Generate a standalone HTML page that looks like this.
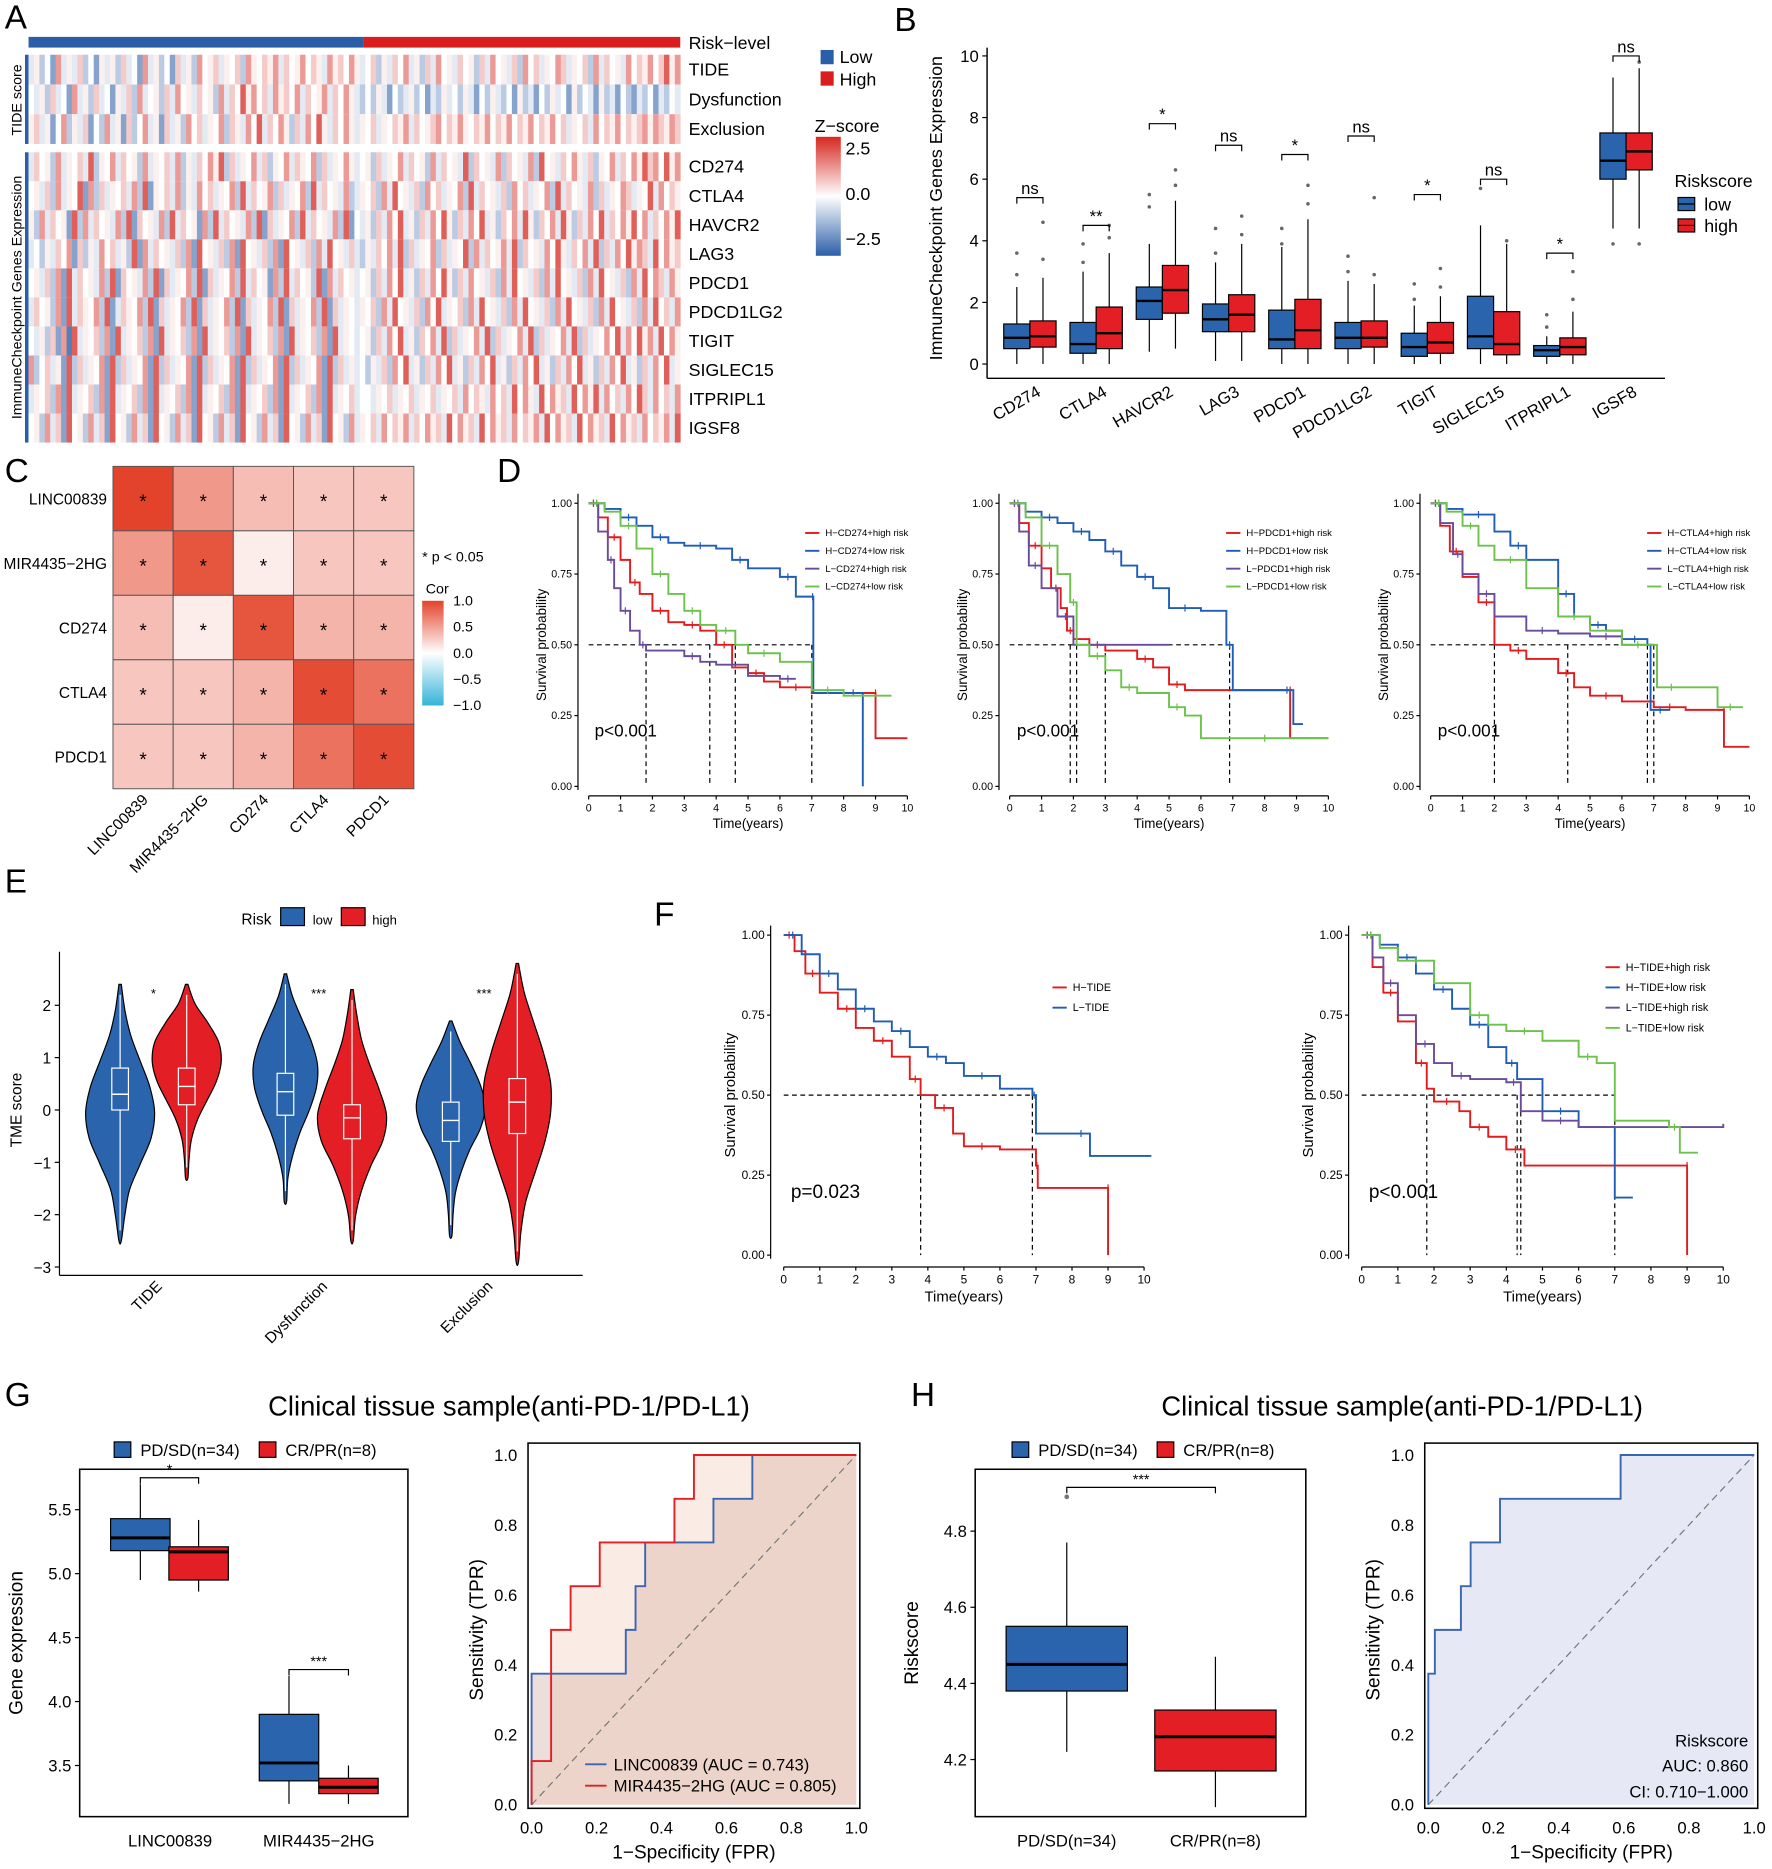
<!DOCTYPE html>
<html><head><meta charset="utf-8">
<style>
html,body{margin:0;padding:0;background:#fff;}
svg{display:block;font-family:"Liberation Sans",Arial,sans-serif;}
</style></head>
<body>
<svg id="fig" width="1772" height="1869" viewBox="0 0 1490 1571" preserveAspectRatio="none" xmlns="http://www.w3.org/2000/svg">
<defs>
<linearGradient id="zgrad" x1="0" y1="0" x2="0" y2="1"><stop offset="0" stop-color="#d7271f"/><stop offset="0.5" stop-color="#ffffff"/><stop offset="1" stop-color="#2b5fa8"/></linearGradient>
<linearGradient id="cgrad" x1="0" y1="0" x2="0" y2="1"><stop offset="0" stop-color="#e3432a"/><stop offset="0.5" stop-color="#ffffff"/><stop offset="1" stop-color="#34b4d9"/></linearGradient>
</defs>
<g font-size="28" fill="#000">
<text x="4" y="24">A</text>
<text x="752" y="26">B</text>
<text x="4" y="405">C</text>
<text x="418" y="405">D</text>
<text x="4" y="750">E</text>
<text x="550" y="778">F</text>
<text x="4" y="1182">G</text>
<text x="766" y="1182">H</text>
</g>
<g font-size="15">
<text x="579" y="41">Risk−level</text>
<text x="706" y="53">Low</text>
<text x="706" y="72">High</text>
<text x="685" y="111">Z−score</text>
<text x="711" y="130">2.5</text>
<text x="711" y="168">0.0</text>
<text x="711" y="206">−2.5</text>
</g>
<rect x="690" y="42" width="11" height="12" fill="#2a5fa8"/>
<rect x="690" y="60" width="11" height="12" fill="#d91e1e"/>
<rect x="686" y="115" width="21" height="100" fill="url(#zgrad)"/>
<rect x="21" y="46" width="3" height="75" fill="#2a5fa8"/>
<rect x="21" y="128" width="3" height="244" fill="#2a5fa8"/>
<text transform="translate(18,84) rotate(-90)" text-anchor="middle" font-size="12">TIDE score</text>
<text transform="translate(18,250) rotate(-90)" text-anchor="middle" font-size="12">ImmuneCheckpoint Genes Expression</text>
<rect x="24" y="31" width="282" height="9" fill="#2a5fa8"/>
<rect x="306" y="31" width="266" height="9" fill="#d91e1e"/>
<g id="heatA"></g>

<text transform="translate(792,175) rotate(-90)" text-anchor="middle" font-size="15">ImmuneCheckpoint Genes Expression</text>
<g font-size="15">
<text x="1408" y="157">Riskscore</text>
<text x="1433" y="177">low</text>
<text x="1433" y="195">high</text>
</g>
<g id="panelB"></g>

<g id="panelC"></g>
<text x="355" y="472" font-size="12">* p &lt; 0.05</text>
<text x="358" y="499" font-size="12">Cor</text>
<rect x="355" y="505" width="18" height="88" fill="url(#cgrad)"/>
<g font-size="12">
<text x="381" y="509">1.0</text>
<text x="381" y="531">0.5</text>
<text x="381" y="553">0.0</text>
<text x="381" y="575">−0.5</text>
<text x="381" y="597">−1.0</text>
</g>

<g id="panelD"></g>
<g id="panelE"></g>
<g id="panelF"></g>

<text x="428" y="1190" text-anchor="middle" font-size="23">Clinical tissue sample(anti-PD-1/PD-L1)</text>
<text x="1179" y="1190" text-anchor="middle" font-size="23">Clinical tissue sample(anti-PD-1/PD-L1)</text>
<g font-size="14">
<rect x="96" y="1212" width="14" height="13" fill="#2a64ad" stroke="#000"/>
<text x="118" y="1224">PD/SD(n=34)</text>
<rect x="218" y="1212" width="14" height="13" fill="#e31e24" stroke="#000"/>
<text x="240" y="1224">CR/PR(n=8)</text>
<rect x="851" y="1212" width="14" height="13" fill="#2a64ad" stroke="#000"/>
<text x="873" y="1224">PD/SD(n=34)</text>
<rect x="973" y="1212" width="14" height="13" fill="#e31e24" stroke="#000"/>
<text x="995" y="1224">CR/PR(n=8)</text>
</g>
<g id="panelG"></g>
<g id="panelH"></g>
</svg>
<script>
// ---------- DATA ----------
const heatLabels = ["TIDE","Dysfunction","Exclusion","CD274","CTLA4","HAVCR2","LAG3","PDCD1","PDCD1LG2","TIGIT","SIGLEC15","ITPRIPL1","IGSF8"];
const heatValues = [
"463528464735264637452846352746385674657386576847568576486758645736475846374856475637485647385746587465738475648576857968",
"546374528463745264738456374856475638475968574867584756847586435364253463524364536425364352634253645263542634253243524354",
"674625836472538462735846274638574658376485947586374859647586465746576847567857686576857685768576857465748576857678687687",
"475638465749365847563846574836475869374658473658476583746586456374658475638475649375648375648395647586473658475869785968",
"564738465928374657483926574836485746583947568374658394756483465738495647385746583947564738574658394756483746587465948576",
"638475629384756483927564839475628394756483927465839475648392546374859463748596374859463758496375849637485947586958475869",
"453647582736485746392847564738295647382956473829564738495647436475849374658374659384756849375648596475849374859687495867",
"564738294756483927564839274658392746583947562839475639284756456374859463748596374856473849564738495647384956473849587486",
"475638294765839247658392746583927465839274658392746583927465465738495647385946573849564738495647384956473849564738495748",
"546372819465738294657382946573829465738294657382946573829465456374859463758493746584937465849374658493746585948596849586",
"835746293746582937465829374658293746582937465829374658293746453647385946374859463748594637485946374859463748594637485946",
"465738294657382946573829465738294657382946573829465738294657455465746574657465748576485749586495867495869485748597485748",
"563847295638472956384729563847295638472956384729563847295638465748576847586749586749586748576849586749586749586748576849"];

const bGenes = ["CD274","CTLA4","HAVCR2","LAG3","PDCD1","PDCD1LG2","TIGIT","SIGLEC15","ITPRIPL1","IGSF8"];
const bLow = [[0,0.5,0.85,1.3,2.5],[0,0.35,0.65,1.35,3.0],[0.4,1.45,2.05,2.5,3.9],[0.1,1.05,1.45,1.95,3.3],[0,0.5,0.8,1.75,3.8],[0,0.5,0.85,1.35,2.7],[0,0.25,0.55,1.0,1.9],[0,0.5,0.9,2.2,4.5],[0,0.25,0.45,0.6,0.9],[4.4,6.0,6.6,7.5,9.3]];
const bHigh = [[0,0.55,0.9,1.4,2.8],[0,0.5,1.0,1.85,3.6],[0.5,1.65,2.4,3.2,5.3],[0.1,1.05,1.6,2.25,3.9],[0,0.5,1.1,2.1,4.7],[0,0.55,0.85,1.4,2.6],[0,0.35,0.7,1.35,2.2],[0,0.3,0.65,1.7,3.9],[0,0.3,0.55,0.85,1.7],[4.4,6.3,6.9,7.5,9.6]];
const bOutLow = [[2.9,3.6],[3.3,3.9],[5.1,5.5],[3.6,4.4],[3.9,4.4],[3.0,3.5],[2.1,2.6],[5.7],[1.2,1.6],[3.9]];
const bOutHigh = [[3.4,4.6],[4.1,4.5],[5.8,6.3],[4.2,4.8],[5.2,5.8],[2.9,5.4],[2.5,3.1],[4.0],[2.1,3.0],[3.9,9.8]];
const bSig = ["ns","**","*","ns","*","ns","*","ns","*","ns"];
const bSigLevel = [5.4,4.5,7.8,7.1,6.8,7.4,5.5,6.0,3.6,10.0];
const bTicks = [0,2,4,6,8,10];

const cLabels = ["LINC00839","MIR4435−2HG","CD274","CTLA4","PDCD1"];
const cCor = [[1.0,0.55,0.35,0.3,0.3],[0.55,0.9,0.1,0.3,0.3],[0.35,0.1,0.9,0.4,0.4],[0.3,0.3,0.4,0.95,0.75],[0.3,0.3,0.4,0.75,0.95]];

const kmColors = {red:"#e41a1c",blue:"#1f5db8",purple:"#6a4c9c",green:"#6cc24a"};
const d1Red = [[0,1],[0.3,0.95],[0.6,0.88],[1,0.8],[1.3,0.72],[1.6,0.68],[2,0.62],[2.5,0.58],[3,0.57],[3.5,0.55],[4,0.5],[4.5,0.42],[5,0.4],[5.5,0.37],[6,0.35],[7,0.33],[9,0.33],[9,0.17],[10,0.17]];
const d1Blue = [[0,1],[0.5,0.98],[1,0.95],[1.5,0.92],[2,0.88],[2.5,0.86],[3,0.85],[4,0.84],[4.5,0.8],[5,0.77],[6,0.74],[6.5,0.67],[7,0.67],[7.05,0.33],[8,0.33],[8.6,0.0]];
const d1Purple = [[0,1],[0.3,0.9],[0.6,0.8],[0.8,0.7],[1,0.62],[1.3,0.55],[1.6,0.5],[1.8,0.48],[3,0.46],[3.5,0.44],[4,0.43],[5,0.39],[6,0.38],[6.5,0.38]];
const d1Green = [[0,1],[0.5,0.97],[1,0.92],[1.5,0.84],[2,0.75],[2.5,0.68],[3,0.62],[3.5,0.57],[4,0.55],[4.6,0.5],[5,0.47],[6,0.44],[7,0.34],[8,0.32],[9.5,0.32]];
const d1Med = [1.8,3.8,4.6,7.0];
const d2Red = [[0,1],[0.3,0.93],[0.6,0.85],[1,0.77],[1.3,0.7],[1.6,0.63],[1.8,0.55],[2,0.52],[2.5,0.5],[3,0.48],[4,0.45],[4.5,0.42],[5,0.36],[5.5,0.34],[8.8,0.34],[8.8,0.17],[10,0.17]];
const d2Blue = [[0,1],[0.5,0.97],[1,0.95],[1.5,0.93],[2,0.9],[2.5,0.87],[3,0.83],[3.5,0.78],[4,0.74],[4.5,0.7],[5,0.63],[6,0.62],[6.8,0.5],[7,0.34],[8.5,0.34],[8.9,0.22],[9.2,0.22]];
const d2Purple = [[0,1],[0.3,0.9],[0.6,0.78],[1,0.7],[1.5,0.6],[2,0.5],[5,0.5]];
const d2Green = [[0,1],[0.5,0.95],[1,0.85],[1.5,0.75],[1.9,0.65],[2.1,0.5],[2.5,0.46],[3,0.41],[3.5,0.35],[4,0.33],[5,0.28],[5.5,0.25],[6,0.17],[10,0.17]];
const d2Med = [1.9,2.1,3.0,6.9];
const d3Red = [[0,1],[0.3,0.92],[0.6,0.83],[1,0.74],[1.5,0.65],[2,0.5],[2.5,0.48],[3,0.45],[4,0.4],[4.5,0.35],[5,0.32],[6,0.3],[7,0.28],[8,0.27],[9.2,0.27],[9.2,0.14],[10,0.14]];
const d3Blue = [[0,1],[0.5,0.98],[1,0.96],[2,0.9],[2.5,0.85],[3,0.8],[4,0.68],[4.5,0.6],[5,0.57],[5.5,0.55],[6,0.52],[6.8,0.5],[6.9,0.27],[7.5,0.27]];
const d3Purple = [[0,1],[0.3,0.93],[0.7,0.82],[1,0.75],[1.5,0.68],[2,0.6],[3,0.55],[4,0.54],[5,0.53],[6,0.5],[7,0.5]];
const d3Green = [[0,1],[0.5,0.97],[1,0.92],[1.5,0.85],[2,0.8],[3,0.7],[4,0.6],[5,0.55],[6,0.5],[7,0.5],[7.1,0.35],[8,0.35],[9,0.28],[9.8,0.28]];
const d3Med = [2.0,4.3,6.8,7.0];
const f1Red = [[0,1],[0.3,0.95],[0.6,0.88],[1,0.82],[1.5,0.77],[2,0.71],[2.5,0.67],[3,0.62],[3.5,0.55],[3.8,0.5],[4.2,0.46],[4.7,0.38],[5,0.34],[6,0.33],[7,0.28],[7.05,0.21],[9,0.21],[9,0]];
const f1Blue = [[0,1],[0.5,0.94],[1,0.88],[1.5,0.83],[2,0.77],[2.5,0.73],[3,0.7],[3.5,0.65],[4,0.62],[4.5,0.6],[5,0.56],[6,0.52],[6.9,0.5],[7,0.38],[8,0.38],[8.5,0.31],[10.2,0.31]];
const f1Med = [3.8,6.9];
const f2Red = [[0,1],[0.3,0.9],[0.6,0.82],[1,0.73],[1.5,0.6],[1.8,0.52],[2,0.48],[2.7,0.45],[3,0.4],[3.5,0.37],[4,0.33],[4.5,0.28],[9,0.28],[9,0]];
const f2Blue = [[0,1],[0.5,0.97],[1,0.93],[1.5,0.88],[2,0.83],[2.5,0.77],[3,0.72],[3.5,0.65],[4,0.6],[4.3,0.55],[5,0.45],[6,0.4],[7,0.35],[7,0.18],[7.5,0.18]];
const f2Purple = [[0,1],[0.3,0.93],[0.6,0.85],[1,0.75],[1.5,0.66],[2,0.6],[2.5,0.56],[3,0.55],[4,0.54],[4.4,0.45],[5,0.42],[6,0.4],[10,0.41]];
const f2Green = [[0,1],[0.5,0.96],[1,0.92],[2,0.85],[3,0.75],[3.5,0.72],[4,0.7],[5,0.67],[6,0.62],[6.5,0.6],[7,0.5],[7,0.42],[8.5,0.4],[8.8,0.32],[9.3,0.32]];
const f2Med = [1.8,4.3,4.4,7.0];

const eGroups = ["TIDE","Dysfunction","Exclusion"];
const eSig = ["*","***","***"];
const eLowRange = [[-2.5,2.4],[-1.75,2.6],[-2.4,1.7]];
const eHighRange = [[-1.3,2.4],[-2.5,2.3],[-2.9,2.8]];
const eLowProfile = [[1,4,9,17,25,29,26,17,8,4,1],[1,6,14,22,27,26,20,12,6,2,1],[1,8,17,25,29,25,16,9,4,2,1]];
const eHighProfile = [[1,7,18,27,29,25,17,9,4,2,1],[1,4,8,15,23,29,26,16,8,3,1],[1,6,14,22,28,28,23,15,7,3,1]];
const eLowBox = [[0.0,0.3,0.8],[-0.1,0.35,0.7],[-0.6,-0.2,0.15]];
const eHighBox = [[0.1,0.45,0.8],[-0.55,-0.15,0.1],[-0.45,0.15,0.6]];
const eTicks = [2,1,0,-1,-2,-3];

const gCats = ["LINC00839","MIR4435−2HG"];
const gLow = [[4.95,5.18,5.28,5.43,5.7],[3.2,3.38,3.52,3.9,4.2]];
const gHigh = [[4.86,4.95,5.17,5.21,5.42],[3.2,3.28,3.33,3.4,3.5]];
const gTicks = [3.5,4.0,4.5,5.0,5.5];
const rocLinc = [[0,0],[0,0.375],[0.29,0.375],[0.29,0.5],[0.32,0.5],[0.32,0.625],[0.35,0.625],[0.35,0.75],[0.56,0.75],[0.56,0.875],[0.68,0.875],[0.68,1],[1,1]];
const rocMir = [[0,0],[0,0.125],[0.06,0.125],[0.06,0.5],[0.12,0.5],[0.12,0.625],[0.21,0.625],[0.21,0.75],[0.44,0.75],[0.44,0.875],[0.5,0.875],[0.5,1],[1,1]];
const hCats = ["PD/SD(n=34)","CR/PR(n=8)"];
const hBoxes = [[4.22,4.38,4.45,4.55,4.77],[4.075,4.17,4.26,4.33,4.47]];
const hOutliers = [4.89];
const hTicks = [4.2,4.4,4.6,4.8];
const rocRisk = [[0,0],[0,0.375],[0.02,0.375],[0.02,0.5],[0.1,0.5],[0.1,0.625],[0.13,0.625],[0.13,0.75],[0.22,0.75],[0.22,0.875],[0.59,0.875],[0.59,1],[1,1]];
const rocTicks = [0,0.2,0.4,0.6,0.8,1.0];

// ---------- HELPERS ----------
const NS='http://www.w3.org/2000/svg';
function mk(tag,attrs,parent){const e=document.createElementNS(NS,tag);for(const k in attrs)e.setAttribute(k,attrs[k]);parent.appendChild(e);return e;}
function tx(parent,x,y,s,attrs){const t=mk('text',Object.assign({x:x,y:y},attrs||{}),parent);t.textContent=s;return t;}
function lerp(a,b,t){return a+(b-a)*t;}
function zColor(v){
  const r1=[215,39,31],w=[255,255,255],b1=[43,95,168];
  const c=v>=0?w.map((x,i)=>Math.round(lerp(x,r1[i],v))):w.map((x,i)=>Math.round(lerp(x,b1[i],-v)));
  return 'rgb('+c.join(',')+')';}
function cColor(v){const r1=[227,67,42],w=[255,255,255],b1=[52,180,217];
  const c=v>=0?w.map((x,i)=>Math.round(lerp(x,r1[i],v))):w.map((x,i)=>Math.round(lerp(x,b1[i],-v)));
  return 'rgb('+c.join(',')+')';}

// ---------- PANEL A ----------
(function(){
  const g=document.getElementById('heatA');
  const x0=24,x1=572;
  const rowY=[]; for(let i=0;i<3;i++)rowY.push([46+i*25,25]); for(let i=0;i<10;i++)rowY.push([128+i*24.4,24.4]);
  heatValues.forEach((s,ri)=>{
    const n=s.length,w=(x1-x0)/n;
    for(let c=0;c<n;c++){
      const v=Math.max(-1,Math.min(1,(parseInt(s[c])-5.2)/4));
      const iv=Math.sign(v)*Math.pow(Math.abs(v),1.5)*0.8;
      const r=mk('rect',{x:(x0+c*w).toFixed(2),y:rowY[ri][0],width:(w+0.3).toFixed(2),height:rowY[ri][1],fill:zColor(iv)},g);
      
      
    }
    const t=tx(g,579,rowY[ri][0]+rowY[ri][1]/2+5,heatLabels[ri],{'font-size':15});
    
    
  });
})();

// ---------- PANEL B ----------
(function(){
  const g=document.getElementById('panelB');
  const ax=830, y0=306, ppu=25.9, cx0=866, dx=55.7;
  const Y=v=>y0-v*ppu;
  const ya=mk('line',{x1:ax,y1:40,x2:ax,y2:318,stroke:'#000','stroke-width':1.2},g);
  
  
  const xa=mk('line',{x1:ax,y1:318,x2:1400,y2:318,stroke:'#000','stroke-width':1.2},g);
  
  
  bTicks.forEach(v=>{
    const l=mk('line',{x1:ax-4,y1:Y(v),x2:ax,y2:Y(v),stroke:'#000'},g);
    
    
    const t=tx(g,ax-7,Y(v)+5,String(v),{'text-anchor':'end','font-size':14});
    
    
  });
  function box(cx,d,col,outs){
    const [lo,q1,md,q3,hi]=d;
    const w=mk('line',{x1:cx,y1:Y(hi),x2:cx,y2:Y(lo),stroke:'#000','stroke-width':1},g);
    
    
    const r=mk('rect',{x:cx-11,y:Y(q3),width:22,height:Y(q1)-Y(q3),fill:col,stroke:'#000','stroke-width':1},g);
    
    
    const m=mk('line',{x1:cx-11,y1:Y(md),x2:cx+11,y2:Y(md),stroke:'#000','stroke-width':2},g);
    
    
    outs.forEach(o=>{const p=mk('circle',{cx:cx,cy:Y(o),r:1.5,fill:'#666'},g);
      
      });
  }
  bGenes.forEach((name,i)=>{
    const cx=cx0+i*dx;
    box(cx-11,bLow[i],'#2a64ad',bOutLow[i]);
    box(cx+11,bHigh[i],'#e31e24',bOutHigh[i]);
    const sy=Y(bSigLevel[i]);
    const br=mk('path',{d:`M${cx-11},${sy+5}V${sy}H${cx+11}V${sy+5}`,fill:'none',stroke:'#000'},g);
    
    
    const st=tx(g,cx,sy-3,bSig[i],{'text-anchor':'middle','font-size':14});
    
    
    const lt=tx(g,0,0,name,{'text-anchor':'end','font-size':14,transform:`translate(${cx+10},332) rotate(-30)`});
    
    
  });
  [['#2a64ad',166],['#e31e24',184]].forEach(([c,y])=>{
    const r=mk('rect',{x:1411,y:y,width:14,height:11,fill:c,stroke:'#000'},g);
    
    
    const l=mk('line',{x1:1411,y1:y+5.5,x2:1425,y2:y+5.5,stroke:'#000'},g);
    
    
  });
})();

// ---------- PANEL C ----------
(function(){
  const g=document.getElementById('panelC');
  const x0=95,y0=392,cw=50.6,ch=54.2;
  cCor.forEach((row,i)=>{
    row.forEach((v,j)=>{
      const r=mk('rect',{x:x0+j*cw,y:y0+i*ch,width:cw,height:ch,fill:cColor(v),stroke:'#555','stroke-width':0.8},g);
      
      
      const s=tx(g,x0+j*cw+cw/2,y0+i*ch+ch/2+8,'*',{'text-anchor':'middle','font-size':16});
      
      
    });
    const t=tx(g,90,y0+i*ch+ch/2+5,cLabels[i],{'text-anchor':'end','font-size':13});
    
    
    const c=tx(g,0,0,cLabels[i],{'text-anchor':'end','font-size':13,transform:`translate(${x0+i*cw+cw/2+5},${y0+5*ch+10}) rotate(-45)`});
    
    
  });
})();

// ---------- KM helper ----------
function kmPlot(g,cfg,series,names,meds,pText){
  const X=t=>cfg.x0+(cfg.x10-cfg.x0)*t/10, Y=s=>cfg.y0-(cfg.y0-cfg.y1)*s;
  const fs=cfg.fs;
  const ya=mk('line',{x1:cfg.ax,y1:cfg.y1-8,x2:cfg.ax,y2:cfg.y0+3,stroke:'#000'},g);
  
  
  const xa=mk('line',{x1:X(0),y1:cfg.ay,x2:X(10),y2:cfg.ay,stroke:'#000'},g);
  
  
  [0,0.25,0.5,0.75,1].forEach(v=>{
    const l=mk('line',{x1:cfg.ax-3,y1:Y(v),x2:cfg.ax,y2:Y(v),stroke:'#000'},g);
    
    
    const t=tx(g,cfg.ax-5,Y(v)+fs/3,v.toFixed(2),{'text-anchor':'end','font-size':fs});
    
    
  });
  for(let k=0;k<=10;k++){
    const l=mk('line',{x1:X(k),y1:cfg.ay,x2:X(k),y2:cfg.ay+3,stroke:'#000'},g);
    
    
    const t=tx(g,X(k),cfg.ay+fs+4,String(k),{'text-anchor':'middle','font-size':fs});
    
    
  }
  const xt=tx(g,(X(0)+X(10))/2,cfg.ay+2*fs+9,'Time(years)',{'text-anchor':'middle','font-size':fs*1.25});
  
  
  const yt=tx(g,0,0,'Survival probability',{'text-anchor':'middle','font-size':fs*1.25,transform:`translate(${cfg.ax-fs*3},${(cfg.y0+cfg.y1)/2}) rotate(-90)`});
  
  
  const maxMed=Math.max(...meds);
  const h=mk('line',{x1:X(0),y1:Y(0.5),x2:X(maxMed),y2:Y(0.5),stroke:'#000','stroke-dasharray':'4,3'},g);
  
  
  meds.forEach(m=>{
    const v=mk('line',{x1:X(m),y1:Y(0.5),x2:X(m),y2:Y(0),stroke:'#000','stroke-dasharray':'4,3'},g);
    
    
  });
  series.forEach(([pts,col],si)=>{
    let d=`M${X(pts[0][0])},${Y(pts[0][1])}`;
    for(let i=1;i<pts.length;i++){d+=`H${X(pts[i][0]).toFixed(1)}V${Y(pts[i][1]).toFixed(1)}`;}
    const p=mk('path',{d:d,fill:'none',stroke:col,'stroke-width':1.6},g);
    
    
    for(let i=1;i<pts.length;i+=2){
      const cx=X((pts[i][0]+pts[i-1][0])/2),cy=Y(pts[i-1][1]);
      const c=mk('path',{d:`M${cx},${cy-3}V${cy+3}`,stroke:col,'stroke-width':1},g);
      
      
    }
    const ly=cfg.ly+si*cfg.lsp;
    const ll=mk('line',{x1:cfg.lx,y1:ly,x2:cfg.lx+12,y2:ly,stroke:col,'stroke-width':1.6},g);
    
    
    const lt=tx(g,cfg.lx+17,ly+cfg.lfs/3,names[si],{'font-size':cfg.lfs});
    
    
  });
  const pt=tx(g,cfg.px,cfg.py,pText,{'font-size':fs*1.6});
  
  
}
(function(){
  const g=document.getElementById('panelD');
  const C=kmColors;
  const base={y1:423,y0:661,ay:669,fs:9,ly:448,lsp:15,lfs:8,py:619};
  kmPlot(g,Object.assign({},base,{x0:495,x10:763,ax:486,lx:677,px:500}),[[d1Red,C.red],[d1Blue,C.blue],[d1Purple,C.purple],[d1Green,C.green]],["H−CD274+high risk","H−CD274+low risk","L−CD274+high risk","L−CD274+low risk"],d1Med,"p<0.001");
  kmPlot(g,Object.assign({},base,{x0:849,x10:1117,ax:840,lx:1031,px:855}),[[d2Red,C.red],[d2Blue,C.blue],[d2Purple,C.purple],[d2Green,C.green]],["H−PDCD1+high risk","H−PDCD1+low risk","L−PDCD1+high risk","L−PDCD1+low risk"],d2Med,"p<0.001");
  kmPlot(g,Object.assign({},base,{x0:1203,x10:1471,ax:1194,lx:1385,px:1209}),[[d3Red,C.red],[d3Blue,C.blue],[d3Purple,C.purple],[d3Green,C.green]],["H−CTLA4+high risk","H−CTLA4+low risk","L−CTLA4+high risk","L−CTLA4+low risk"],d3Med,"p<0.001");
  const f=document.getElementById('panelF');
  const fb={y1:786,y0:1055,ay:1065,fs:10,lfs:9,py:1007};
  kmPlot(f,Object.assign({},fb,{x0:659,x10:962,ax:648,lx:885,ly:830,lsp:17,px:665}),[[f1Red,C.red],[f1Blue,C.blue]],["H−TIDE","L−TIDE"],f1Med,"p=0.023");
  kmPlot(f,Object.assign({},fb,{x0:1145,x10:1449,ax:1134,lx:1350,ly:813,lsp:17,px:1151}),[[f2Red,C.red],[f2Blue,C.blue],[f2Purple,C.purple],[f2Green,C.green]],["H−TIDE+high risk","H−TIDE+low risk","L−TIDE+high risk","L−TIDE+low risk"],f2Med,"p<0.001");
})();

// ---------- PANEL E ----------
(function(){
  const g=document.getElementById('panelE');
  const Y=v=>933-v*44, ax=50, ay=1072, centers=[129,268,407];
  const ya=mk('line',{x1:ax,y1:800,x2:ax,y2:ay,stroke:'#000'},g);
  
  
  const xa=mk('line',{x1:ax,y1:ay,x2:490,y2:ay,stroke:'#000'},g);
  
  
  eTicks.forEach(v=>{
    const l=mk('line',{x1:ax-4,y1:Y(v),x2:ax,y2:Y(v),stroke:'#000'},g);
    
    
    const t=tx(g,ax-7,Y(v)+5,String(v).replace('-','−'),{'text-anchor':'end','font-size':13});
    
    
  });
  const yt=tx(g,0,0,'TME score',{'text-anchor':'middle','font-size':13,transform:'translate(18,933) rotate(-90)'});
  
  
  function smoothPath(pts){
    let d=`M${pts[0][0].toFixed(1)},${pts[0][1].toFixed(1)}`;
    for(let i=1;i<pts.length;i++){
      const p0=pts[Math.max(0,i-2)],p1=pts[i-1],p2=pts[i],p3=pts[Math.min(pts.length-1,i+1)];
      const c1=[p1[0]+(p2[0]-p0[0])/6,p1[1]+(p2[1]-p0[1])/6],c2=[p2[0]-(p3[0]-p1[0])/6,p2[1]-(p3[1]-p1[1])/6];
      d+=`C${c1[0].toFixed(1)},${c1[1].toFixed(1)} ${c2[0].toFixed(1)},${c2[1].toFixed(1)} ${p2[0].toFixed(1)},${p2[1].toFixed(1)}`;
    }
    return d+'Z';
  }
  function violin(cx,range,prof,bx,col){
    const [mn,mx]=range,n=prof.length;
    let right=[],left=[];
    for(let i=0;i<n;i++){const v=mx-(mx-mn)*i/(n-1);right.push([cx+prof[i],Y(v)]);left.push([cx-prof[i],Y(v)]);}
    const pts=right.concat(left.reverse());
    const p=mk('path',{d:smoothPath(pts),fill:col,stroke:'#000','stroke-width':1},g);
    
    
    const w=mk('line',{x1:cx,y1:Y(mx-0.2),x2:cx,y2:Y(mn+0.2),stroke:'#fff','stroke-width':1},g);
    
    
    const r=mk('rect',{x:cx-7,y:Y(bx[2]),width:14,height:Y(bx[0])-Y(bx[2]),fill:col,stroke:'#fff','stroke-width':1},g);
    
    
    const m=mk('line',{x1:cx-7,y1:Y(bx[1]),x2:cx+7,y2:Y(bx[1]),stroke:'#fff','stroke-width':1.2},g);
    
    
  }
  eGroups.forEach((name,i)=>{
    violin(centers[i]-28,eLowRange[i],eLowProfile[i],eLowBox[i],'#2a64ad');
    violin(centers[i]+28,eHighRange[i],eHighProfile[i],eHighBox[i],'#e31e24');
    const s=tx(g,centers[i],839,eSig[i],{'text-anchor':'middle','font-size':11});
    
    
    const l=tx(g,0,0,name,{'text-anchor':'end','font-size':13,transform:`translate(${centers[i]+8},1082) rotate(-45)`});
    
    
  });
  const rt=tx(g,203,777,'Risk',{'font-size':13});
  
  
  [['#2a64ad',236,'low',263],['#e31e24',287,'high',313]].forEach(([c,x,lab,tx2])=>{
    const r=mk('rect',{x:x,y:763,width:20,height:15,fill:c,stroke:'#000'},g);
    
    
    const l=tx(g,tx2,777,lab,{'font-size':11});
    
    
  });
})();

// ---------- G / H ----------
function boxPanel(g,cfg,cats,boxesList,ticks,ytitle){
  const Y=v=>cfg.yRef-(v-cfg.vRef)*cfg.ppu;
  const fr=mk('rect',{x:cfg.x0,y:cfg.y0,width:cfg.x1-cfg.x0,height:cfg.y1-cfg.y0,fill:'none',stroke:'#000','stroke-width':1.3},g);
  
  
  ticks.forEach(v=>{
    const l=mk('line',{x1:cfg.x0-4,y1:Y(v),x2:cfg.x0,y2:Y(v),stroke:'#000'},g);
    
    
    const t=tx(g,cfg.x0-7,Y(v)+5,v.toFixed(1),{'text-anchor':'end','font-size':14});
    
    
  });
  const yt=tx(g,0,0,ytitle,{'text-anchor':'middle','font-size':16,transform:`translate(${cfg.x0-48},${(cfg.y0+cfg.y1)/2}) rotate(-90)`});
  
  
  boxesList.forEach(([cx,d,col,w])=>{
    const [lo,q1,md,q3,hi]=d;
    const wl=mk('line',{x1:cx,y1:Y(hi),x2:cx,y2:Y(lo),stroke:'#000'},g);
    
    
    const r=mk('rect',{x:cx-w/2,y:Y(q3),width:w,height:Y(q1)-Y(q3),fill:col,stroke:'#000'},g);
    
    
    const m=mk('line',{x1:cx-w/2,y1:Y(md),x2:cx+w/2,y2:Y(md),stroke:'#000','stroke-width':2.5},g);
    
    
  });
  cats.forEach(([name,cx])=>{
    const t=tx(g,cx,cfg.y1+25,name,{'text-anchor':'middle','font-size':14});
    
    
  });
  return Y;
}
function sigBracket(g,xa,xb,y,label){
  const b=mk('path',{d:`M${xa},${y+5}V${y}H${xb}V${y+5}`,fill:'none',stroke:'#000'},g);
  
  
  const t=tx(g,(xa+xb)/2,y-3,label,{'text-anchor':'middle','font-size':12});
  
  
}
function rocPanel(g,cfg,curves){
  const X=v=>cfg.x0+(cfg.x1-cfg.x0)*v, Y=v=>cfg.yb-(cfg.yb-cfg.yt)*v;
  curves.forEach(([pts,col,fill])=>{
    let d=`M${X(0)},${Y(0)}`; pts.forEach(p=>d+=`L${X(p[0]).toFixed(1)},${Y(p[1]).toFixed(1)}`); d+=`L${X(1)},${Y(0)}Z`;
    const a=mk('path',{d:d,fill:fill,stroke:'none'},g);
    
    
  });
  const dg=mk('line',{x1:X(0),y1:Y(0),x2:X(1),y2:Y(1),stroke:'#777','stroke-dasharray':'6,4'},g);
  
  
  curves.forEach(([pts,col])=>{
    const p=mk('polyline',{points:pts.map(q=>X(q[0]).toFixed(1)+','+Y(q[1]).toFixed(1)).join(' '),fill:'none',stroke:col,'stroke-width':1.6},g);
    
    
  });
  const fr=mk('rect',{x:cfg.x0-3,y:cfg.yt-10,width:cfg.x1-cfg.x0+6,height:cfg.yb-cfg.yt+13,fill:'none',stroke:'#000','stroke-width':1.3},g);
  
  
  rocTicks.forEach(v=>{
    const t1=tx(g,X(v),cfg.yb+24,v.toFixed(1),{'text-anchor':'middle','font-size':14});
    
    
    const t2=tx(g,cfg.x0-12,Y(v)+5,v.toFixed(1),{'text-anchor':'end','font-size':14});
    
    
  });
  const xt=tx(g,(cfg.x0+cfg.x1)/2,cfg.yb+45,'1−Specificity (FPR)',{'text-anchor':'middle','font-size':16});
  
  
  const yt=tx(g,0,0,'Sensitivity (TPR)',{'text-anchor':'middle','font-size':16,transform:`translate(${cfg.x0-41},${(cfg.yt+cfg.yb)/2}) rotate(-90)`});
  
  
}
(function(){
  const g=document.getElementById('panelG');
  const cfg={x0:67,x1:343,y0:1235,y1:1527,yRef:1484,vRef:3.5,ppu:107.5};
  const Y=boxPanel(g,cfg,[[gCats[0],143],[gCats[1],268]],[[118,gLow[0],'#2a64ad',50],[167,gHigh[0],'#e31e24',50],[243,gLow[1],'#2a64ad',50],[293,gHigh[1],'#e31e24',50]],gTicks,'Gene expression');
  sigBracket(g,118,167,Y(5.75),'*');
  sigBracket(g,243,293,Y(4.25),'***');
  rocPanel(g,{x0:447,x1:720,yt:1223,yb:1517},[[rocLinc,'#3a66b0','rgba(200,160,150,0.35)'],[rocMir,'#e31e24','rgba(240,190,170,0.3)']]);
  [['#3a66b0','LINC00839 (AUC = 0.743)',1488],['#e31e24','MIR4435−2HG (AUC = 0.805)',1506]].forEach(([c,s,y])=>{
    const l=mk('line',{x1:492,y1:y-5,x2:510,y2:y-5,stroke:c,'stroke-width':1.6},g);
    
    
    const t=tx(g,516,y,s,{'font-size':14});
    
    
  });
  const h=document.getElementById('panelH');
  const hc={x0:820,x1:1098,y0:1235,y1:1527,yRef:1479,vRef:4.2,ppu:320};
  const YH=boxPanel(h,hc,[[hCats[0],897],[hCats[1],1022]],[[897,hBoxes[0],'#2a64ad',102],[1022,hBoxes[1],'#e31e24',102]],hTicks,'Riskscore');
  hOutliers.forEach(v=>{
    const c=mk('circle',{cx:897,cy:YH(v),r:2,fill:'#777'},h);
    
    
  });
  sigBracket(h,897,1022,YH(4.915),'***');
  rocPanel(h,{x0:1201,x1:1475,yt:1223,yb:1517},[[rocRisk,'#3a66b0','rgba(200,205,235,0.45)']]);
  [['Riskscore',1468],['AUC: 0.860',1489],['CI: 0.710−1.000',1511]].forEach(([s,y])=>{
    const t=tx(h,1470,y,s,{'text-anchor':'end','font-size':14});
    
    
  });
})();
</script>
</body></html>
